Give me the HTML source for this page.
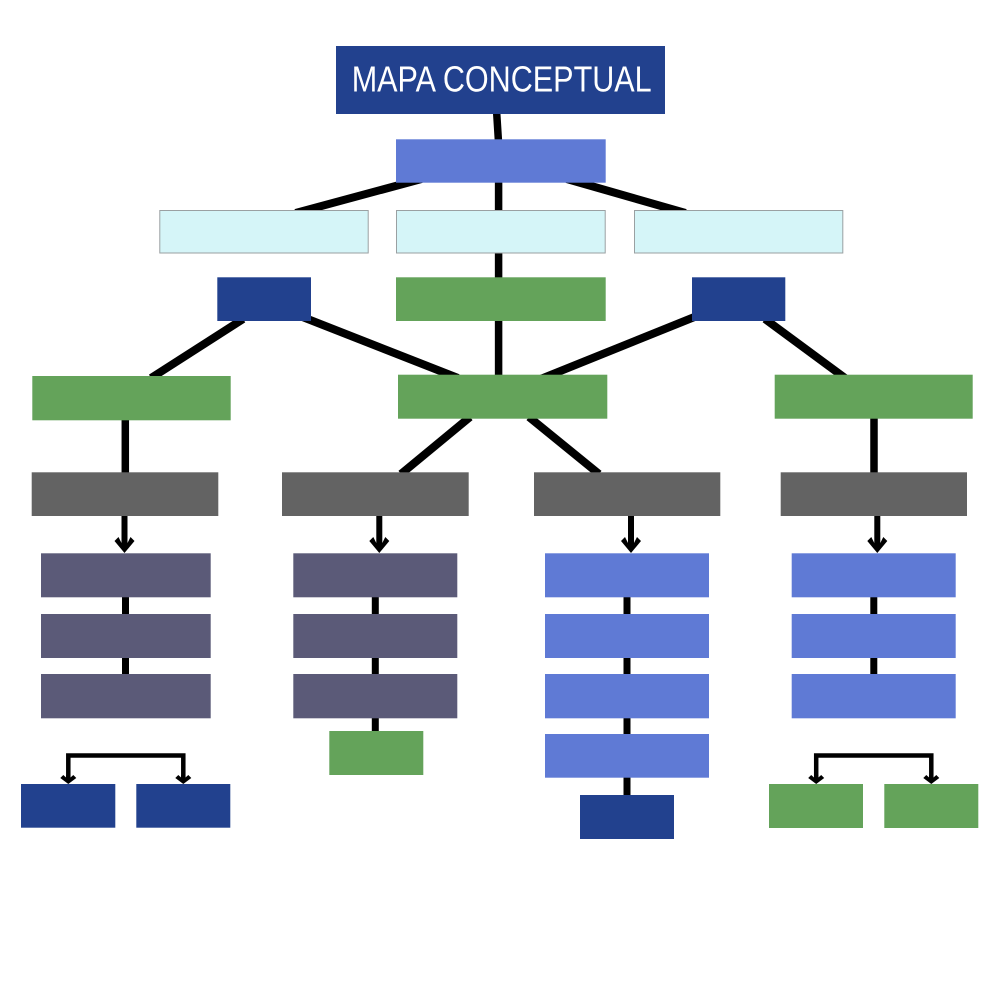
<!DOCTYPE html>
<html>
<head>
<meta charset="utf-8">
<style>
  html,body{margin:0;padding:0;background:#ffffff;}
  svg{display:block;}
</style>
</head>
<body>
<svg width="1000" height="1000" viewBox="0 0 1000 1000" xmlns="http://www.w3.org/2000/svg">
  <rect x="0" y="0" width="1000" height="1000" fill="#ffffff"/>

  <!-- connectors -->
  <g stroke="#000" stroke-linecap="butt" fill="none">
    <line x1="496.5" y1="110" x2="498.5" y2="142" stroke-width="7.5"/>
    <line x1="498.6" y1="180" x2="498.6" y2="378" stroke-width="7.5"/>
    <line x1="421.5" y1="179" x2="295.6" y2="213" stroke-width="8"/>
    <line x1="566.8" y1="179" x2="685.5" y2="213" stroke-width="8"/>
    <line x1="243.1" y1="319" x2="151.1" y2="378" stroke-width="8"/>
    <line x1="300" y1="316" x2="458" y2="378" stroke-width="8"/>
    <line x1="699.4" y1="315" x2="540.7" y2="379" stroke-width="8"/>
    <line x1="765" y1="319" x2="845" y2="378" stroke-width="8"/>
    <line x1="470" y1="417" x2="401" y2="474" stroke-width="8"/>
    <line x1="529" y1="417" x2="599" y2="474" stroke-width="8"/>
    <line x1="125.3" y1="418" x2="125.3" y2="474" stroke-width="7.5"/>
    <line x1="874" y1="418" x2="874" y2="474" stroke-width="7.5"/>
    <!-- stacks -->
    <line x1="125.5" y1="595" x2="125.5" y2="676" stroke-width="7"/>
    <line x1="375.3" y1="595" x2="375.3" y2="733" stroke-width="7"/>
    <line x1="627" y1="595" x2="627" y2="797" stroke-width="7"/>
    <line x1="873.8" y1="595" x2="873.8" y2="676" stroke-width="7"/>
    <!-- brackets -->
    <path d="M68.3 780 V755.5 H183.3 V780" stroke-width="4.5"/>
    <path d="M816.2 780 V755.5 H931.3 V780" stroke-width="4.5"/>
  </g>

  <!-- arrowheads (gray -> stack) -->
  <g fill="#000">
    <polygon points="121.5,514 127.5,514 127.5,543 130.5,537 134.5,541 124.5,553 114.5,541 118.5,537 121.5,543"/>
    <polygon points="376.3,514 382.3,514 382.3,543 385.3,537 389.3,541 379.3,553 369.3,541 373.3,537 376.3,543"/>
    <polygon points="628,514 634,514 634,543 637,537 641,541 631,553 621,541 625,537 628,543"/>
    <polygon points="874.3,514 880.3,514 880.3,543 883.3,537 887.3,541 877.3,553 867.3,541 871.3,537 874.3,543"/>
    <!-- bracket heads -->
    <polygon points="66.1,775 70.5,775 70.5,777.5 73.3,775 76.3,778 68.3,784 60.3,778 63.3,775 66.1,777.5"/>
    <polygon points="181.1,775 185.5,775 185.5,777.5 188.3,775 191.3,778 183.3,784 175.3,778 178.3,775 181.1,777.5"/>
    <polygon points="814,775 818.4,775 818.4,777.5 821.2,775 824.2,778 816.2,784 808.2,778 811.2,775 814,777.5"/>
    <polygon points="929.1,775 933.5,775 933.5,777.5 936.3,775 939.3,778 931.3,784 923.3,778 926.3,775 929.1,777.5"/>
  </g>

  <!-- Title -->
  <rect x="336" y="46" width="329" height="68" fill="#22418e"/>
  <text x="351.7" y="91.7" fill="#ffffff" font-family="Liberation Sans, sans-serif" font-size="36" textLength="300" lengthAdjust="spacingAndGlyphs">MAPA CONCEPTUAL</text>

  <!-- level 2 -->
  <rect x="396" y="139.3" width="209.7" height="43.4" fill="#5f7ad5"/>

  <!-- light boxes -->
  <g fill="#d5f5f8" stroke="#9aa0a2" stroke-width="1">
    <rect x="159.8" y="210.5" width="208.4" height="42.5"/>
    <rect x="396.5" y="210.5" width="208.7" height="42.5"/>
    <rect x="634.5" y="210.5" width="208.3" height="42.5"/>
  </g>

  <!-- row 3 -->
  <rect x="217.3" y="277.3" width="93.7" height="43.7" fill="#22418e"/>
  <rect x="396" y="277.3" width="209.7" height="43.7" fill="#64a35a"/>
  <rect x="692" y="277.3" width="93.3" height="43.7" fill="#22418e"/>

  <!-- row 4 green -->
  <rect x="32.3" y="376" width="198.4" height="44.3" fill="#64a35a"/>
  <rect x="398" y="374.7" width="209.3" height="44" fill="#64a35a"/>
  <rect x="774.7" y="374.7" width="198" height="44" fill="#64a35a"/>

  <!-- gray row -->
  <g fill="#636363">
    <rect x="31.7" y="472.3" width="186.6" height="43.7"/>
    <rect x="282" y="472.3" width="186.7" height="43.7"/>
    <rect x="534" y="472.3" width="186.3" height="43.7"/>
    <rect x="780.7" y="472.3" width="186.3" height="43.7"/>
  </g>

  <!-- col1 purple -->
  <g fill="#5b5a78">
    <rect x="41" y="553.3" width="169.7" height="44"/>
    <rect x="41" y="614" width="169.7" height="44"/>
    <rect x="41" y="674" width="169.7" height="44.3"/>
    <rect x="293.3" y="553.3" width="164" height="44"/>
    <rect x="293.3" y="614" width="164" height="44"/>
    <rect x="293.3" y="674" width="164" height="44.3"/>
  </g>

  <!-- col3/col4 blue -->
  <g fill="#5f7ad5">
    <rect x="545" y="553.3" width="164" height="44"/>
    <rect x="545" y="614" width="164" height="44"/>
    <rect x="545" y="674" width="164" height="44.3"/>
    <rect x="545" y="734" width="164" height="43.7"/>
    <rect x="791.7" y="553.3" width="164" height="44"/>
    <rect x="791.7" y="614" width="164" height="44"/>
    <rect x="791.7" y="674" width="164" height="44.3"/>
  </g>

  <!-- bottoms -->
  <rect x="329.3" y="731" width="94" height="44" fill="#64a35a"/>
  <rect x="580" y="795" width="94" height="44" fill="#22418e"/>
  <rect x="21" y="784" width="94.3" height="43.7" fill="#22418e"/>
  <rect x="136.3" y="784" width="94" height="43.7" fill="#22418e"/>
  <rect x="769" y="784" width="94" height="44" fill="#64a35a"/>
  <rect x="884.3" y="784" width="94" height="44" fill="#64a35a"/>
</svg>
</body>
</html>
